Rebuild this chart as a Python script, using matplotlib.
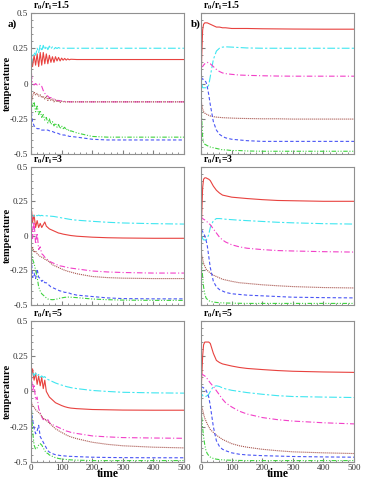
import matplotlib
matplotlib.use("Agg")
import matplotlib.pyplot as plt
from matplotlib.ticker import MultipleLocator, FixedLocator, FixedFormatter

plt.rcParams["font.family"] = ["Liberation Serif", "DejaVu Serif"]
plt.rcParams["mathtext.fontset"] = "stix"

# time grids (left column has oscillations -> finer grid)
t_osc = [0, 2, 5, 10, 15, 20, 25, 30, 35, 40,
         45, 50, 55, 60, 65, 70, 75, 80, 85, 90,
         95, 100, 105, 110, 115, 120, 125, 130, 150, 200,
         250, 300, 400, 500]
t_s = [0, 2, 5, 8, 12, 16, 20, 25, 30, 40, 50, 60, 70, 80, 100, 125, 150, 200, 250, 300, 400, 500]

# ---- a) r0/ri = 1.5
a1_red = [0.00, 0.17, 0.12, 0.20, 0.13, 0.21, 0.12, 0.22, 0.13, 0.22,
          0.14, 0.21, 0.14, 0.20, 0.15, 0.19, 0.15, 0.19, 0.16, 0.185,
          0.16, 0.18, 0.165, 0.178, 0.166, 0.175, 0.168, 0.172, 0.17, 0.17,
          0.17, 0.17, 0.17, 0.17]
a1_cyan = [0.02, 0.14, 0.19, 0.22, 0.20, 0.25, 0.22, 0.27, 0.23, 0.27,
           0.24, 0.265, 0.24, 0.265, 0.245, 0.26, 0.245, 0.255, 0.248, 0.255,
           0.25, 0.252, 0.25, 0.25, 0.25, 0.25, 0.25, 0.25, 0.25, 0.25,
           0.25, 0.25, 0.25, 0.25]
a1_mag = [0.15, 0.05, 0.0, -0.01, 0.0, -0.01, 0.0, -0.01, -0.02, -0.05,
          -0.07, -0.08, -0.09, -0.10, -0.10, -0.11, -0.11, -0.115, -0.12, -0.12,
          -0.122, -0.125, -0.125, -0.127, -0.128, -0.128, -0.13, -0.13, -0.13, -0.13,
          -0.13, -0.13, -0.13, -0.13]
a1_brown = [0.0, -0.12, -0.09, -0.06, -0.08, -0.07, -0.09, -0.08, -0.10, -0.09,
            -0.11, -0.09, -0.12, -0.10, -0.12, -0.11, -0.13, -0.115, -0.13, -0.12,
            -0.135, -0.125, -0.13, -0.128, -0.132, -0.13, -0.13, -0.13, -0.13, -0.13,
            -0.13, -0.13, -0.13, -0.13]
a1_blue = [-0.05, -0.22, -0.27, -0.30, -0.31, -0.32, -0.32, -0.32, -0.33, -0.33,
           -0.33, -0.33, -0.33, -0.335, -0.34, -0.34, -0.345, -0.35, -0.35, -0.355,
           -0.36, -0.36, -0.365, -0.365, -0.37, -0.37, -0.375, -0.375, -0.38, -0.395,
           -0.40, -0.40, -0.40, -0.40]
a1_green = [-0.05, -0.14, -0.17, -0.13, -0.20, -0.16, -0.22, -0.19, -0.24, -0.22,
            -0.26, -0.24, -0.28, -0.25, -0.29, -0.27, -0.30, -0.28, -0.31, -0.29,
            -0.32, -0.30, -0.32, -0.31, -0.33, -0.32, -0.34, -0.335, -0.35, -0.375,
            -0.38, -0.38, -0.38, -0.38]

# ---- a) r0/ri = 3
a2_red = [0.0, 0.18, 0.10, 0.15, 0.06, 0.11, 0.06, 0.09, 0.06, 0.08,
          0.10, 0.07, 0.06, 0.05, 0.045, 0.04, 0.035, 0.03, 0.025, 0.02,
          0.018, 0.015, 0.012, 0.01, 0.008, 0.006, 0.004, 0.002, -0.003, -0.01,
          -0.014, -0.016, -0.018, -0.018]
a2_cyan = [0.10, 0.15, 0.16, 0.14, 0.15, 0.145, 0.15, 0.145, 0.148, 0.145,
           0.147, 0.145, 0.144, 0.143, 0.142, 0.141, 0.14, 0.138, 0.136, 0.134,
           0.132, 0.13, 0.128, 0.126, 0.124, 0.122, 0.12, 0.118, 0.113, 0.105,
           0.098, 0.093, 0.088, 0.085]
a2_mag = [0.05, 0.14, -0.02, 0.10, -0.06, 0.02, -0.10, -0.08, -0.13, -0.14,
          -0.155, -0.165, -0.175, -0.185, -0.19, -0.195, -0.20, -0.205, -0.21, -0.215,
          -0.218, -0.22, -0.222, -0.225, -0.228, -0.23, -0.232, -0.234, -0.24, -0.255,
          -0.262, -0.266, -0.27, -0.27]
a2_brown = [-0.05, -0.10, -0.08, -0.12, -0.11, -0.13, -0.14, -0.15, -0.155, -0.16,
            -0.17, -0.175, -0.18, -0.19, -0.20, -0.21, -0.215, -0.22, -0.225, -0.23,
            -0.235, -0.24, -0.245, -0.25, -0.253, -0.257, -0.26, -0.263, -0.275, -0.295,
            -0.303, -0.307, -0.31, -0.31]
a2_blue = [-0.05, -0.20, -0.30, -0.27, -0.31, -0.24, -0.30, -0.31, -0.33, -0.32,
           -0.34, -0.34, -0.35, -0.36, -0.37, -0.375, -0.38, -0.385, -0.39, -0.395,
           -0.40, -0.40, -0.405, -0.41, -0.41, -0.415, -0.415, -0.42, -0.43, -0.44,
           -0.45, -0.455, -0.457, -0.457]
a2_green = [0.0, -0.12, -0.17, -0.20, -0.25, -0.30, -0.37, -0.40, -0.42, -0.43,
            -0.44, -0.45, -0.458, -0.46, -0.462, -0.463, -0.462, -0.46, -0.458, -0.455,
            -0.452, -0.45, -0.448, -0.446, -0.445, -0.444, -0.444, -0.445, -0.448, -0.458,
            -0.463, -0.466, -0.468, -0.468]

# ---- a) r0/ri = 5
a3_red = [0.0, 0.12, 0.16, 0.08, 0.13, 0.05, 0.11, 0.04, 0.10, 0.02,
          0.08, 0.0, -0.02, -0.04, -0.05, -0.06, -0.07, -0.08, -0.085, -0.09,
          -0.095, -0.10, -0.104, -0.108, -0.111, -0.114, -0.116, -0.118, -0.122, -0.128,
          -0.13, -0.132, -0.133, -0.133]
a3_cyan = [0.05, 0.13, 0.14, 0.11, 0.13, 0.11, 0.12, 0.10, 0.11, 0.10,
           0.105, 0.09, 0.085, 0.08, 0.075, 0.07, 0.065, 0.06, 0.056, 0.052,
           0.048, 0.045, 0.042, 0.038, 0.035, 0.032, 0.03, 0.027, 0.02, 0.007,
           0.0, -0.006, -0.01, -0.012]
a3_mag = [0.05, 0.10, 0.0, 0.05, -0.06, -0.04, -0.12, -0.15, -0.18, -0.20,
          -0.19, -0.21, -0.20, -0.22, -0.23, -0.235, -0.24, -0.245, -0.25, -0.255,
          -0.26, -0.265, -0.27, -0.275, -0.28, -0.283, -0.286, -0.29, -0.298, -0.315,
          -0.322, -0.327, -0.33, -0.332]
a3_brown = [-0.05, -0.08, -0.10, -0.11, -0.13, -0.14, -0.15, -0.16, -0.175, -0.19,
            -0.195, -0.205, -0.215, -0.225, -0.235, -0.245, -0.255, -0.265, -0.27, -0.278,
            -0.285, -0.29, -0.296, -0.302, -0.308, -0.313, -0.318, -0.322, -0.335, -0.36,
            -0.375, -0.385, -0.395, -0.40]
a3_blue = [-0.05, -0.15, -0.20, -0.26, -0.30, -0.28, -0.24, -0.32, -0.34, -0.36,
           -0.38, -0.40, -0.42, -0.43, -0.435, -0.44, -0.445, -0.448, -0.45, -0.452,
           -0.454, -0.455, -0.456, -0.457, -0.458, -0.459, -0.46, -0.46, -0.462, -0.466,
           -0.468, -0.469, -0.47, -0.47]
a3_green = [-0.05, -0.15, -0.28, -0.38, -0.41, -0.40, -0.38, -0.37, -0.38, -0.40,
            -0.42, -0.435, -0.44, -0.45, -0.455, -0.46, -0.465, -0.47, -0.472, -0.475,
            -0.477, -0.478, -0.48, -0.481, -0.482, -0.483, -0.484, -0.485, -0.487, -0.49,
            -0.49, -0.49, -0.49, -0.49]

# ---- b) right column (smooth)
b1_red = [0.0, 0.2, 0.38, 0.42, 0.43, 0.43, 0.43, 0.425, 0.42, 0.41, 0.40, 0.40, 0.395, 0.395, 0.39, 0.39, 0.39, 0.388, 0.387, 0.386, 0.385, 0.385]
b1_cyan = [0.10, 0.0, -0.03, -0.03, -0.03, -0.03, -0.03, -0.01, 0.05, 0.17, 0.23, 0.25, 0.258, 0.26, 0.258, 0.255, 0.252, 0.25, 0.25, 0.25, 0.25, 0.25]
b1_mag = [0.12, 0.12, 0.12, 0.13, 0.14, 0.145, 0.15, 0.145, 0.14, 0.12, 0.10, 0.085, 0.075, 0.07, 0.065, 0.06, 0.058, 0.055, 0.053, 0.052, 0.052, 0.052]
b1_brown = [-0.10, -0.15, -0.18, -0.20, -0.21, -0.215, -0.22, -0.225, -0.23, -0.235, -0.238, -0.24, -0.242, -0.243, -0.245, -0.247, -0.248, -0.25, -0.25, -0.252, -0.252, -0.252]
b1_blue = [0.04, 0.04, 0.03, 0.03, 0.02, 0.01, -0.02, -0.08, -0.15, -0.27, -0.33, -0.36, -0.375, -0.385, -0.395, -0.40, -0.405, -0.41, -0.41, -0.41, -0.41, -0.41]
b1_green = [-0.10, -0.25, -0.38, -0.42, -0.43, -0.435, -0.44, -0.445, -0.45, -0.455, -0.46, -0.465, -0.47, -0.47, -0.475, -0.475, -0.478, -0.48, -0.48, -0.48, -0.48, -0.48]

b2_red = [0.0, 0.15, 0.35, 0.41, 0.42, 0.42, 0.415, 0.41, 0.40, 0.36, 0.33, 0.31, 0.295, 0.29, 0.28, 0.275, 0.27, 0.262, 0.256, 0.254, 0.25, 0.25]
b2_cyan = [0.10, 0.02, -0.02, -0.03, -0.03, -0.03, -0.02, 0.01, 0.06, 0.11, 0.125, 0.125, 0.123, 0.12, 0.117, 0.113, 0.11, 0.104, 0.098, 0.094, 0.088, 0.085]
b2_mag = [0.14, 0.13, 0.125, 0.12, 0.115, 0.11, 0.10, 0.09, 0.08, 0.05, 0.02, -0.01, -0.03, -0.045, -0.065, -0.08, -0.09, -0.10, -0.107, -0.11, -0.115, -0.118]
b2_brown = [-0.10, -0.14, -0.17, -0.20, -0.22, -0.24, -0.25, -0.26, -0.27, -0.285, -0.295, -0.305, -0.315, -0.32, -0.33, -0.34, -0.345, -0.355, -0.362, -0.368, -0.375, -0.378]
b2_blue = [0.04, 0.04, 0.03, 0.02, 0.0, -0.03, -0.07, -0.15, -0.23, -0.33, -0.37, -0.39, -0.40, -0.41, -0.42, -0.425, -0.43, -0.435, -0.44, -0.445, -0.448, -0.45]
b2_green = [-0.10, -0.20, -0.30, -0.37, -0.42, -0.45, -0.46, -0.47, -0.475, -0.48, -0.483, -0.485, -0.486, -0.487, -0.488, -0.489, -0.49, -0.49, -0.49, -0.49, -0.49, -0.49]

b3_red = [0.0, 0.10, 0.25, 0.33, 0.35, 0.35, 0.35, 0.35, 0.34, 0.27, 0.22, 0.205, 0.195, 0.19, 0.18, 0.17, 0.163, 0.155, 0.148, 0.143, 0.138, 0.135]
b3_cyan = [0.05, 0.0, -0.03, -0.035, -0.035, -0.035, -0.03, -0.02, 0.0, 0.035, 0.04, 0.035, 0.025, 0.018, 0.008, 0.0, -0.008, -0.02, -0.03, -0.036, -0.04, -0.043]
b3_mag = [0.13, 0.125, 0.12, 0.115, 0.11, 0.10, 0.09, 0.075, 0.06, 0.035, 0.005, -0.025, -0.055, -0.08, -0.11, -0.14, -0.16, -0.185, -0.2, -0.21, -0.222, -0.23]
b3_brown = [-0.08, -0.11, -0.13, -0.16, -0.19, -0.21, -0.23, -0.25, -0.27, -0.29, -0.31, -0.325, -0.34, -0.35, -0.37, -0.385, -0.395, -0.41, -0.42, -0.428, -0.435, -0.44]
b3_blue = [0.03, 0.03, 0.03, 0.025, 0.02, 0.01, -0.01, -0.04, -0.10, -0.25, -0.35, -0.39, -0.41, -0.42, -0.435, -0.445, -0.45, -0.455, -0.458, -0.461, -0.464, -0.466]
b3_green = [-0.10, -0.18, -0.26, -0.32, -0.38, -0.42, -0.44, -0.455, -0.465, -0.475, -0.48, -0.483, -0.485, -0.486, -0.488, -0.489, -0.49, -0.49, -0.49, -0.49, -0.49, -0.49]

ratios = ["1.5", "3", "5"]
ytick_vals = [-0.5, -0.25, 0, 0.25, 0.5]
ytick_labels = ["-0.5", "-0.25", "0", "0.25", "0.5"]

# style per curve: colour, dash pattern
styles = [("#e8423f", "-"),                          # red
          ("#3fe6f0", (0, (7, 2, 2, 2))),             # cyan
          ("#f23fc8", (0, (5, 2, 1, 2))),             # magenta
          ("#a8564f", (0, (1, 0.8))),                 # brown
          ("#4a55f5", (0, (3, 2))),                   # blue
          ("#3fd23f", (0, (4, 1.5, 1, 1.5, 1, 1.5)))]  # green

left_data = [[a1_red, a1_cyan, a1_mag, a1_brown, a1_blue, a1_green],
             [a2_red, a2_cyan, a2_mag, a2_brown, a2_blue, a2_green],
             [a3_red, a3_cyan, a3_mag, a3_brown, a3_blue, a3_green]]
right_data = [[b1_red, b1_cyan, b1_mag, b1_brown, b1_blue, b1_green],
              [b2_red, b2_cyan, b2_mag, b2_brown, b2_blue, b2_green],
              [b3_red, b3_cyan, b3_mag, b3_brown, b3_blue, b3_green]]

fig = plt.figure(figsize=(3.65, 4.8), dpi=100)

row_bottoms = [0.679, 0.365, 0.0375]
row_heights = [0.294, 0.2875, 0.294]
col_lefts = [0.085, 0.551]
col_w = 0.419

for r in range(3):
    for c in range(2):
        ax = fig.add_axes([col_lefts[c], row_bottoms[r], col_w, row_heights[r]])
        if c == 0:
            tt, curves = t_osc, left_data[r]
        else:
            tt, curves = t_s, right_data[r]
        for yy, (col, ls) in zip(curves, styles):
            ax.plot(tt, yy, color=col, linestyle=ls, linewidth=0.8)
        ax.set_xlim(0, 500)
        ax.set_ylim(-0.5, 0.5)
        ax.xaxis.set_major_locator(MultipleLocator(100))
        ax.xaxis.set_minor_locator(MultipleLocator(20))
        ax.yaxis.set_major_locator(FixedLocator(ytick_vals))
        ax.yaxis.set_major_formatter(FixedFormatter(ytick_labels))
        ax.yaxis.set_minor_locator(MultipleLocator(0.05))
        ax.tick_params(which="both", direction="in", colors="#808080",
                       labelcolor="#333333", labelsize=6.5)
        ax.tick_params(axis="y", pad=2)
        ax.tick_params(axis="x", pad=1.5)
        ax.tick_params(which="major", length=3)
        ax.tick_params(which="minor", length=1.5)
        for sp in ax.spines.values():
            sp.set_color("#909090")
            sp.set_linewidth(0.8)
        if r < 2:
            ax.tick_params(labelbottom=False)
        else:
            ax.set_xlabel("time", fontsize=8.5, fontweight="bold")
            ax.xaxis.set_label_coords(0.5, -0.045)
        if c == 1:
            ax.tick_params(labelleft=False)
        else:
            ax.set_ylabel("temperature", fontsize=7.5, fontweight="bold")
            ax.yaxis.set_label_coords(-0.125, 0.5)
        ax.text(0.01, 1.005, r"$\mathbf{r_0/r_i}$=" + ratios[r], transform=ax.transAxes,
                fontsize=7, fontweight="bold", ha="left", va="bottom")

fig.text(0.022, 0.945, "a)", fontsize=8, fontweight="bold")
fig.text(0.522, 0.945, "b)", fontsize=8, fontweight="bold")

fig.savefig("out.png", dpi=100)
